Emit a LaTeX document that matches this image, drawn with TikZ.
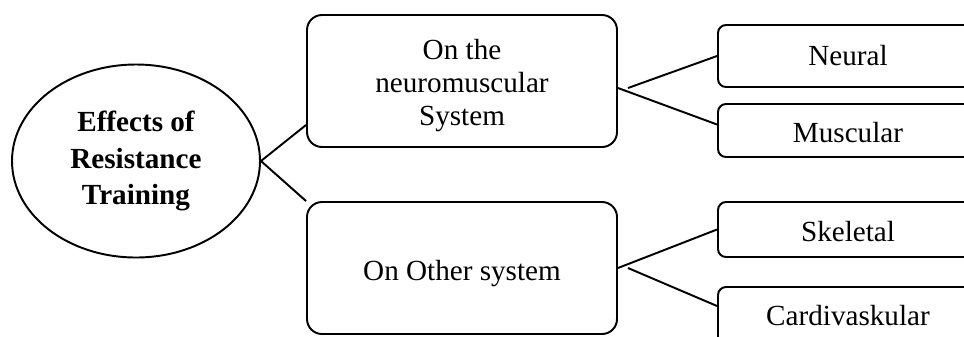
\documentclass[tikz,border=0pt]{standalone}
\usepackage{fontspec}
\setmainfont{Liberation Serif}
\usetikzlibrary{shapes.geometric}
\newcommand\upx{0.4115pt}

\begin{document}
\begin{tikzpicture}
[x=\upx, y=-\upx, line width=0.8pt,
 font=\fontsize{12}{13.6}\selectfont,
 effect/.style={draw, ellipse, inner sep=0pt, align=center,
   minimum width=248*\upx, minimum height=193*\upx,
   font=\fontsize{12}{15.2}\selectfont\bfseries},
 sysbox/.style={draw, rounded corners=15*\upx, align=center,
   minimum width=310*\upx, minimum height=132*\upx},
 partbox/.style={draw, rounded corners=8*\upx,
   minimum width=260*\upx}]
  \useasboundingbox (0,0) rectangle (964,336);
  \clip (0,0) rectangle (964,336);
  \node[effect] (eff) at (136,161) {Effects of\\Resistance\\Training}; % root
  \node[sysbox] (nms) at (462,81) {\rule{0pt}{12pt}On the\\neuromuscular\\System};
  \node[sysbox] (oth) at (462,268) {\rule{0pt}{13pt}On Other system};
  \node[partbox, minimum height=62*\upx] (neu) at (848,56) {Neural};
  \node[partbox, minimum height=53*\upx] (mus) at (848,130.5) {\rule{0pt}{10pt}Muscular};
  \node[partbox, minimum height=55*\upx] (ske) at (848,229.5) {\rule{0pt}{10pt}Skeletal};
  \node[partbox, minimum height=58*\upx] (car) at (848,316) {Cardivaskular};
  % forks
  \coordinate (nmsfork) at ([yshift=-7*\upx]nms.east);
  \coordinate (nmsgap) at ([xshift=10*\upx]nmsfork);
  \coordinate (othgap) at ([xshift=10*\upx]oth.east);
  \draw (eff.east) -- ([yshift=23*\upx]nms.south west);
  \draw (eff.east) -- (oth.north west);
  \draw (nmsgap) -- (neu.west);
  \draw (nmsfork) -- ([yshift=6*\upx]mus.west);
  \draw (oth.east) -- (ske.west);
  \draw (othgap) -- ([yshift=10*\upx]car.west);
\end{tikzpicture}
\end{document}
